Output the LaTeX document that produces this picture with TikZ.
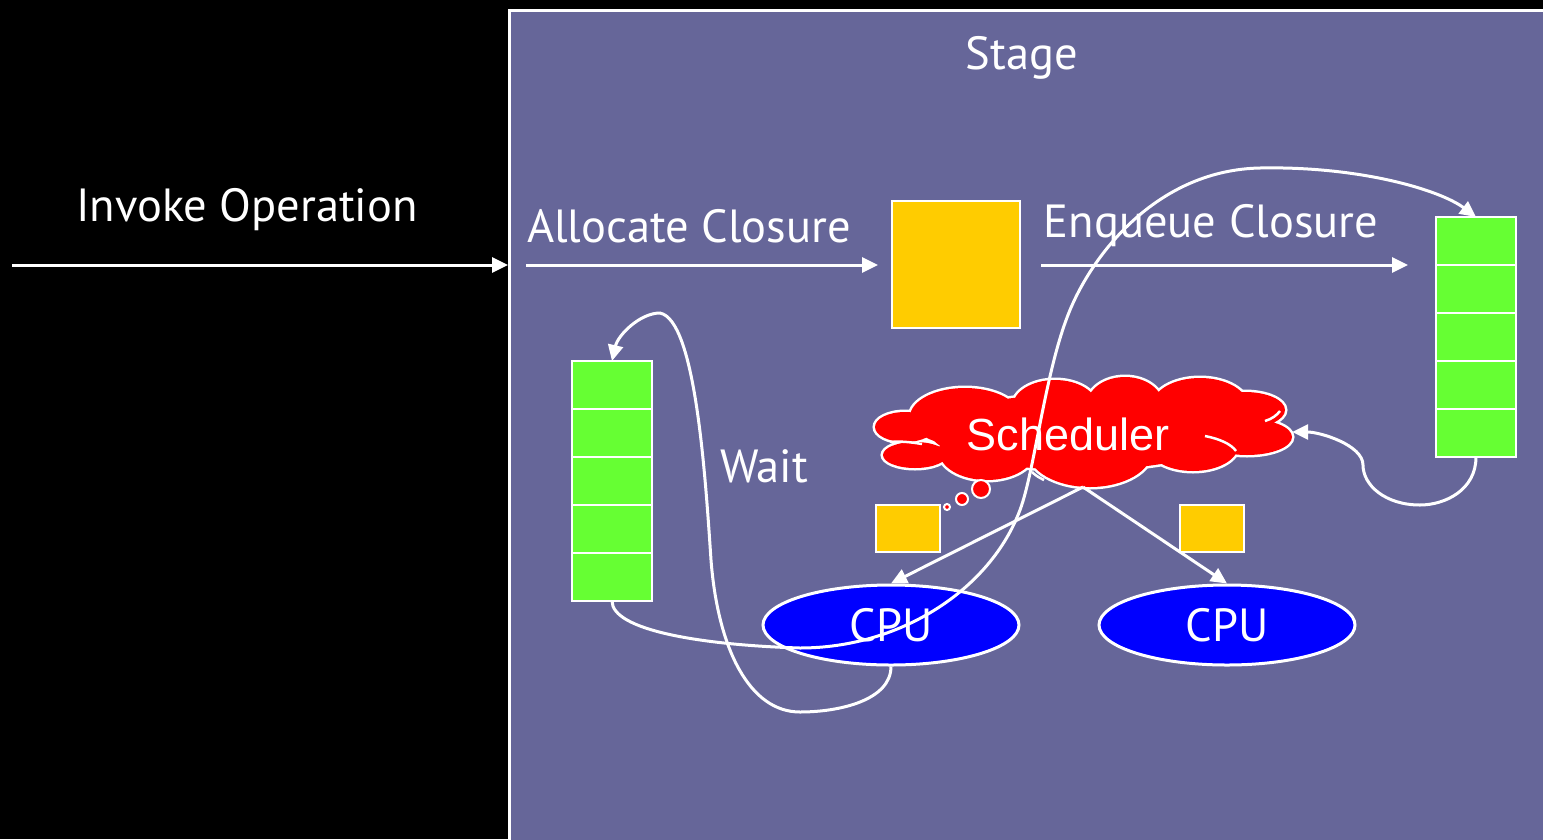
\documentclass[tikz,border=0pt]{standalone}
\usepackage{fontspec}
\setmainfont{PT Sans}
\newfontfamily\arialfont{Liberation Sans}
\usetikzlibrary{arrows.meta,shapes.geometric}
\definecolor{stagebg}{RGB}{102,102,153}
\definecolor{qgreen}{RGB}{102,255,51}
\definecolor{cyellow}{RGB}{255,204,0}
\definecolor{cpublue}{RGB}{0,0,255}
\begin{document}
\begin{tikzpicture}[x=1pt,y=-1pt,
  lbl/.style={text=white,font=\fontsize{46.5}{52}\selectfont,inner sep=0pt},
  conn/.style={draw=white,line width=3pt,-{Triangle[length=16pt,width=15pt]}},
  qcell/.style={draw=white,line width=2.5pt,fill=qgreen,minimum width=80,minimum height=48,inner sep=0pt,outer sep=0pt},
  closure/.style={draw=white,line width=2.5pt,fill=cyellow,inner sep=0pt},
  cpu/.style={ellipse,draw=white,line width=3pt,fill=cpublue,minimum width=256,minimum height=80,inner sep=0pt,text=white,font=\fontsize{46.5}{52}\selectfont},
  bubble/.style={circle,draw=white,line width=2pt,fill=red,inner sep=0pt},
  puffline/.style={draw=white,line width=2.5pt}]
\fill[black] (0,0) rectangle (1543,839);
\useasboundingbox (0,0) rectangle (1543,839);
\node[draw=white,line width=2.5pt,fill=stagebg,minimum width=1050,minimum height=850,anchor=north west,inner sep=0pt] (stage) at (508,9) {};
\node[lbl] (stagelbl) at (1022,58) {Stage};
\node[lbl] (invlbl) at (247,210) {Invoke Operation};
\node[lbl] (alloclbl) at (689,226) {Allocate Closure};
\node[lbl] (enqlbl) at (1211,226) {Enqueue Closure};
\node[lbl] (waitlbl) at (764,466) {Wait};
% closure box
\node[closure,minimum width=128,minimum height=127] (clos) at (956,264.5) {};
% arrows
\coordinate (invA) at (12,265);
\coordinate (invB) at (508,265);
\draw[conn] (invA) -- (invB);
\coordinate (allA) at (526,265);
\coordinate (allB) at (878,265);
\draw[conn] (allA) -- (allB);
\coordinate (enqA) at (1041,265);
\coordinate (enqB) at (1408,265);
\draw[conn] (enqA) -- (enqB);
% queues
\foreach \i in {1,...,5}{
  \node[qcell] (rq\i) at (1476,{217+24+48*(\i-1)}) {};
  \node[qcell] (lq\i) at (612,{361+24+48*(\i-1)}) {};
}
% cloud (union of puffs: white outline first, red fill on top)
\def\puffs{(905,427) ellipse [x radius=30,y radius=15]
  (915,455) ellipse [x radius=32,y radius=13]
  (965,417) ellipse [x radius=55,y radius=29]
  (1055,406) ellipse [x radius=42,y radius=26]
  (1125,405) ellipse [x radius=38,y radius=28]
  (1200,406) ellipse [x radius=48,y radius=28]
  (1245,410) ellipse [x radius=40,y radius=18]
  (1247,437) ellipse [x radius=45,y radius=18]
  (1193,446) ellipse [x radius=45,y radius=25]
  (1090,451) ellipse [x radius=62,y radius=36]
  (987,451) ellipse [x radius=48,y radius=29]
  (1080,432) ellipse [x radius=150,y radius=38]}
\draw[white,line width=5pt] \puffs;
\fill[red] \puffs;
\draw[puffline] (890,442) .. controls (900,441) and (910,442) .. (922,444);
\draw[puffline] (1265,421) .. controls (1272,419) and (1277,415) .. (1280,411);
\draw[puffline] (1205,436) .. controls (1220,439) and (1231,444) .. (1236,451);
\draw[puffline] (1032,472) .. controls (1036,476) and (1040,478) .. (1044,480);
\node[inner sep=0pt,minimum width=418,minimum height=110] (sched) at (1083,432) {};
\node[text=white,font=\arialfont\fontsize{45}{50}\selectfont,inner sep=0pt] (schedlbl) at (1068,434) {Scheduler};
% thought bubbles
\node[bubble,minimum size=18] (b1) at (981,489) {};
\node[bubble,minimum size=12] (b2) at (962,499) {};
\node[bubble,minimum size=6] (b3) at (947,507) {};
% small closures
\node[closure,minimum width=64,minimum height=47] (c1) at (908,528.5) {};
\node[closure,minimum width=64,minimum height=47] (c2) at (1212,528.5) {};
% CPUs
\node[cpu] (cpu1) at (891,625) {CPU};
\node[cpu] (cpu2) at (1227,625) {CPU};
% scheduler to CPUs
\coordinate (schedB) at (1083,487);
\draw[conn] (schedB) -- (cpu1.north);
\draw[conn] (schedB) -- (cpu2.north);
% wait curve
\draw[conn] (cpu1.south) .. controls (891,700) and (840,712) .. (800,712)
  .. controls (750,712) and (718,650) .. (711,560)
  .. controls (705,470) and (695,320) .. (660,313)
  .. controls (640,313) and (618,335) .. (lq1.north);
% long curve
\draw[conn] (lq5.south) .. controls (612,630) and (700,645) .. (800,648)
  .. controls (900,648) and (990,590) .. (1020,510)
  .. controls (1035,470) and (1045,370) .. (1070,310)
  .. controls (1095,250) and (1160,170) .. (1260,168)
  .. controls (1360,166) and (1440,190) .. (rq1.north);
% return curve
\draw[conn] (rq5.south) .. controls (1476,490) and (1445,505) .. (1420,505)
  .. controls (1385,505) and (1363,485) .. (1363,465)
  .. controls (1363,445) and (1320,432) .. (sched.east);
\end{tikzpicture}
\end{document}
